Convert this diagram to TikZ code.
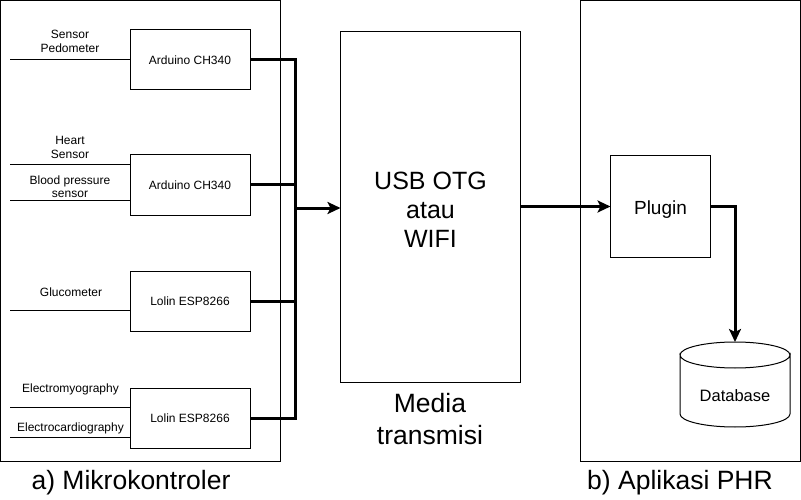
\documentclass[tikz,border=0pt]{standalone}
\usepackage{fontspec}
\setmainfont{Liberation Sans}
\usetikzlibrary{arrows.meta,calc}
\begin{document}
\begin{tikzpicture}[x=1pt,y=-1pt,
  every node/.style={inner sep=0pt,outer sep=0pt},
  mcu/.style={draw,line width=1pt,minimum width=120pt,minimum height=60pt,font=\fontsize{12}{14}\selectfont},
  lbl/.style={font=\fontsize{12}{13.5}\selectfont,align=center},
  panel/.style={draw,line width=1pt},
  thinln/.style={line width=1pt},
  thickln/.style={line width=3pt},
  arr/.style={thickln,-{Stealth[length=13pt,width=12pt,inset=3pt]}},
  big/.style={font=\fontsize{25}{29}\selectfont,align=center},
  captxt/.style={font=\fontsize{26.5}{32}\selectfont,align=center}]
\useasboundingbox (0,0) rectangle (801,500);
\fill[white] (0,0) rectangle (801,500);
% panels
\node[panel,minimum width=280pt,minimum height=461pt,anchor=north west] (pa) at (0.5,0.5) {};
\node[panel,minimum width=220pt,minimum height=461pt,anchor=north west] (pb) at (580.5,0.5) {};
% microcontrollers
\node[mcu] (b1) at (190,60) {Arduino CH340};
\node[mcu] (b2) at (190,185) {Arduino CH340};
\node[mcu] (b3) at (190,301) {Lolin ESP8266};
\node[mcu] (b4) at (190,418) {Lolin ESP8266};
% sensor lines
\coordinate (s1) at (10,60);
\coordinate (s2) at (10,165);
\coordinate (s3) at (10,201);
\coordinate (s4) at (10,310);
\coordinate (s5) at (10,407);
\coordinate (s6) at (10,437);
\draw[thinln] (s1) -- (s1 -| b1.west);
\draw[thinln] (s2) -- (s2 -| b2.west);
\draw[thinln] (s3) -- (s3 -| b2.west);
\draw[thinln] (s4) -- (s4 -| b3.west);
\draw[thinln] (s5) -- (s5 -| b4.west);
\draw[thinln] (s6) -- (s6 -| b4.west);
% sensor labels
\node[lbl] (l1) at (70,41.5) {Sensor\\Pedometer};
\node[lbl] (l2) at (70,147.5) {Heart\\Sensor};
\node[lbl] (l3) at (70,186.5) {Blood pressure\\sensor};
\node[lbl] (l4) at (71,292) {Glucometer};
\node[lbl] (l5) at (70.5,389) {Electromyography};
\node[lbl] (l6) at (70.5,428) {Electrocardiography};
% transmission box
\node[draw,line width=1pt,minimum width=180pt,minimum height=350pt] (usb) at (430.5,207) {};
\node[big] (usbt) at (430.5,209.5) {USB OTG\\atau\\WIFI};
\node[captxt] (mt) at (430,419) {Media\\transmisi};
% junction
\coordinate (j1) at (295,60);
\coordinate (j2) at (295,185);
\coordinate (j3) at (295,301);
\coordinate (j4) at (295,418);
\coordinate (jm) at (295,208);
\draw[thickln] (b1.east) -- (j1);
\draw[thickln] (b2.east) -- (j2);
\draw[thickln] (b3.east) -- (j3);
\draw[thickln] (b4.east) -- (j4);
\draw[thickln,line cap=rect] (j1) -- (j4);
\draw[arr] (jm) -- (usb.west |- jm);
% plugin
\node[draw,line width=1pt,minimum width=100pt,minimum height=102pt] (plugin) at (660.5,206.5) {};
\node[font=\fontsize{19}{21}\selectfont] (plt) at (660.5,209.5) {Plugin};
\draw[arr] (usb.east |- plugin) -- (plugin.west);
% database
\node[minimum width=110pt,minimum height=85pt] (db) at (735,384.5) {};
\draw[thinln,fill=white] (db.north west) ++(0,-13pt) coordinate (dtl)
  arc[start angle=180,end angle=360,x radius=55pt,y radius=13pt]
  -- ($(db.south east)+(0,13pt)$)
  arc[start angle=0,end angle=-180,x radius=55pt,y radius=13pt] -- cycle;
\draw[thinln] (dtl) arc[start angle=180,end angle=0,x radius=55pt,y radius=13pt];
\node[font=\fontsize{16.5}{18}\selectfont] (dbt) at (735,396) {Database};
\draw[arr] (plugin.east) -| (db.north);
% captions
\node[captxt] (ca) at (131,483) {a) Mikrokontroler};
\node[captxt] (cb) at (680,483) {b) Aplikasi PHR};
\end{tikzpicture}
\end{document}
